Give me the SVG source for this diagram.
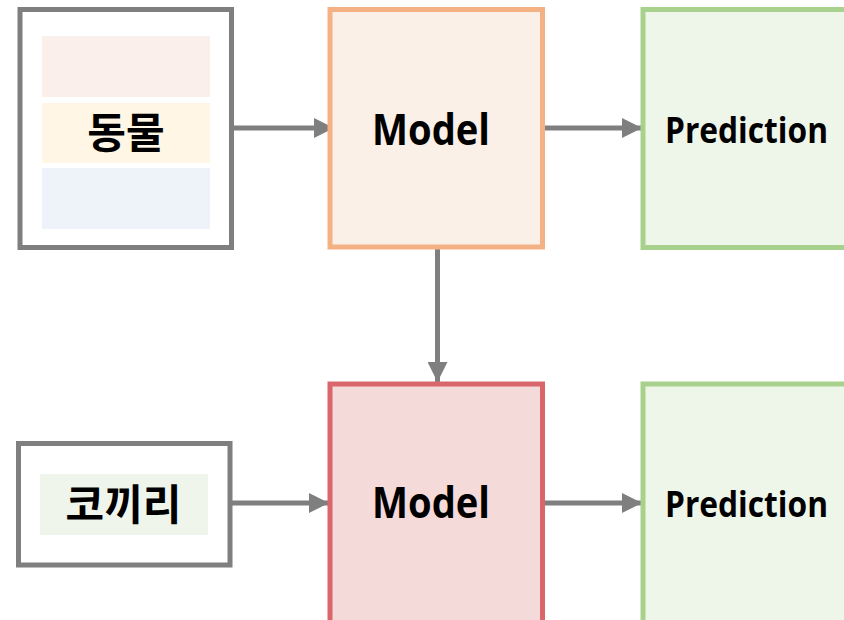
<svg xmlns="http://www.w3.org/2000/svg" width="844" height="620" viewBox="0 0 844 620">
  <style>
    .frame { fill: #ffffff; stroke: #7f7f7f; stroke-width: 5; }
    .model1 { fill: #fbf0e8; stroke: #f4b183; stroke-width: 5; }
    .model2 { fill: #f5dada; stroke: #d9666a; stroke-width: 5; }
    .pred { fill: #eef5e9; stroke: #a9d18e; stroke-width: 5; }
    .lbl { font-family: "Open Sans", "Noto Sans", sans-serif; font-weight: bold; fill: #000000; text-anchor: middle; }
    .ko { font-family: "Noto Sans CJK KR", sans-serif; font-weight: bold; fill: #000000; text-anchor: middle; font-size: 42px; }
    .edge { stroke: #7f7f7f; stroke-width: 5; fill: none; marker-end: url(#head); }
  </style>
  <defs>
    <marker id="head" markerUnits="userSpaceOnUse" markerWidth="20" markerHeight="20" refX="20" refY="10" orient="auto">
      <path d="M0,0 L20,10 L0,20 Z" fill="#7f7f7f"/>
    </marker>
  </defs>

  <rect width="844" height="620" fill="#ffffff"/>

  <!-- connectors -->
  <g id="connectors">
    <line class="edge" x1="233" y1="128" x2="334" y2="128"/>
    <line class="edge" x1="544" y1="128" x2="642" y2="128"/>
    <line class="edge" x1="437.5" y1="249" x2="437.5" y2="382"/>
    <line class="edge" x1="232" y1="503" x2="329" y2="503"/>
    <line class="edge" x1="544" y1="503" x2="642" y2="503"/>
  </g>

  <!-- input: 동물 -->
  <g id="input-animal">
    <rect class="frame" x="20" y="9.5" width="211.5" height="238"/>
    <rect x="42" y="36" width="168" height="61" fill="#fbefeb"/>
    <rect x="42" y="103" width="168" height="60" fill="#fff6e5"/>
    <rect x="42" y="168" width="168" height="61" fill="#eef3fa"/>
    <text class="ko" x="126" y="148">동물</text>
  </g>

  <!-- model (top) -->
  <g id="model-top">
    <rect class="model1" x="330" y="9.5" width="212.5" height="237.5"/>
    <text class="lbl" x="431" y="145" font-size="43" textLength="118" lengthAdjust="spacingAndGlyphs">Model</text>
  </g>

  <!-- prediction (top) -->
  <g id="prediction-top">
    <rect class="pred" x="643" y="9.5" width="210" height="238"/>
    <text class="lbl" x="746.5" y="142.5" font-size="36" textLength="163" lengthAdjust="spacingAndGlyphs">Prediction</text>
  </g>

  <!-- input: 코끼리 -->
  <g id="input-elephant">
    <rect class="frame" x="18.5" y="443.5" width="211.5" height="121.5"/>
    <rect x="40" y="474" width="168" height="61" fill="#f0f5ec"/>
    <text class="ko" x="123.5" y="520">코끼리</text>
  </g>

  <!-- model (bottom) -->
  <g id="model-bottom">
    <rect class="model2" x="330" y="384" width="212.5" height="250"/>
    <text class="lbl" x="431" y="518" font-size="43" textLength="118" lengthAdjust="spacingAndGlyphs">Model</text>
  </g>

  <!-- prediction (bottom) -->
  <g id="prediction-bottom">
    <rect class="pred" x="643" y="384" width="210" height="250"/>
    <text class="lbl" x="746.5" y="516.5" font-size="36" textLength="163" lengthAdjust="spacingAndGlyphs">Prediction</text>
  </g>
</svg>
